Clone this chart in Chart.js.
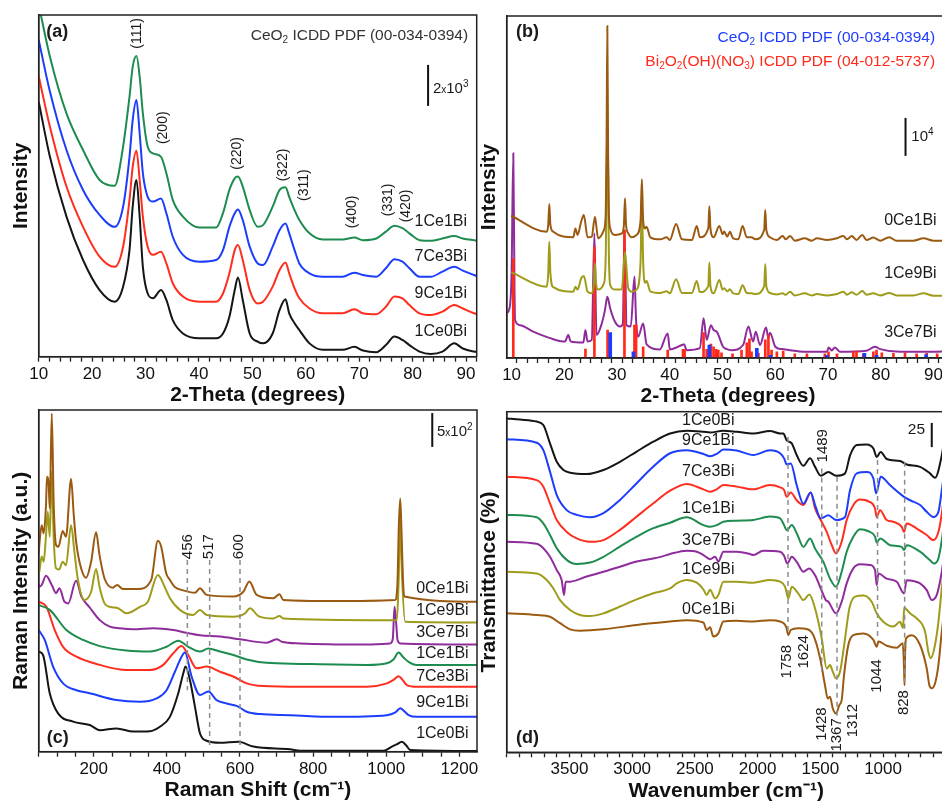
<!DOCTYPE html>
<html>
<head>
<meta charset="utf-8">
<title>XRD / Raman / FTIR</title>
<script src="https://cdn.jsdelivr.net/npm/chart.js@4.4.1/dist/chart.umd.min.js"></script>
<style>
  html, body { margin: 0; padding: 0; background: #fff; }
  body { width: 942px; height: 802px; overflow: hidden; position: relative; }
  canvas { position: absolute; }
</style>
</head>
<body>
<canvas id="chartA" width="480" height="408" style="left:0;top:0"></canvas>
<canvas id="chartB" width="500" height="409" style="left:468px;top:0"></canvas>
<canvas id="chartC" width="480" height="403" style="left:0;top:400px"></canvas>
<canvas id="chartD" width="500" height="404" style="left:468px;top:400px"></canvas>
<script>
// ---- (a) XRD, CeO2-rich samples (2-theta, offset intensity a.u.)
const xrdA_theta = [10, 12.1, 15.2, 18.3, 21.4, 24.2, 25.8, 27.0, 27.6, 28.3, 28.9, 29.5, 30.4, 31.4, 32.9,
  33.9, 35.1, 37.0, 40.1, 43.2, 44.5, 45.7, 46.7, 47.3, 48.2, 49.5, 51.0, 52.0, 53.8, 55.1, 56.2, 56.9, 57.9,
  58.8, 60.7, 63.2, 66.9, 69.1, 70.7, 73.2, 75.0, 76.6, 78.1, 79.4, 81.3, 83.4, 85.6, 87.8, 89.4, 91.5, 92];
const xrdA_1Ce0Bi = [74.6, 58.5, 41.0, 28.3, 19.5, 16.1, 20.5, 31.2, 43.9, 51.7, 41.0, 26.3, 18.5, 17.1, 19.5,
  16.6, 10.7, 6.8, 5.4, 5.4, 6.8, 11.7, 19.5, 23.2, 16.6, 6.8, 4.4, 3.9, 6.8, 13.7, 16.8, 12.7, 9.8,
  7.8, 3.9, 2.0, 2.0, 2.9, 1.8, 1.3, 3.4, 5.9, 4.9, 3.4, 1.5, 0.8, 1.5, 3.9, 2.4, 1.5, 1.4];
const xrdA_9Ce1Bi = [82.1, 67.3, 49.8, 38.0, 29.3, 26.3, 32.2, 45.9, 55.6, 60.3, 51.7, 41.0, 32.2, 29.8, 30.7,
  27.3, 21.5, 17.6, 16.1, 16.1, 18.5, 24.4, 31.2, 32.7, 28.3, 19.5, 15.6, 16.1, 20.5, 25.4, 27.6, 24.4, 20.0,
  17.1, 14.1, 12.7, 12.7, 13.9, 12.7, 12.4, 14.6, 17.6, 17.1, 15.1, 12.7, 12.2, 13.2, 15.1, 14.1, 12.7, 12.5];
const xrdA_7Ce3Bi = [92.7, 77.6, 60.5, 48.8, 41.5, 38.0, 43.9, 58.5, 69.3, 75.1, 65.4, 53.7, 46.8, 45.4, 46.3,
  42.0, 35.1, 29.8, 27.8, 28.3, 31.2, 38.0, 42.0, 43.1, 40.0, 32.2, 27.3, 26.8, 32.2, 37.1, 39.0, 36.1, 31.2,
  27.3, 24.4, 23.4, 23.4, 24.6, 23.9, 23.4, 25.9, 28.5, 27.8, 25.9, 23.4, 23.4, 24.9, 26.3, 25.2, 23.9, 23.6];
const xrdA_1Ce1Bi = [103, 87.8, 71.2, 60.5, 51.7, 50.0, 61.5, 76.1, 84.9, 88.0, 82.0, 71.2, 61.5, 59.5, 58.5,
  53.7, 45.9, 41.0, 37.8, 37.8, 42.0, 48.8, 52.2, 52.7, 49.8, 42.9, 38.0, 38.5, 43.9, 48.8, 49.6, 46.8, 42.9,
  40.0, 36.1, 34.3, 34.3, 34.9, 34.1, 34.6, 36.6, 38.3, 37.6, 36.1, 34.1, 33.9, 34.6, 35.3, 34.6, 34.1, 34.0];

// ---- (b) XRD, Bi-rich samples ([2-theta, intensity a.u.])
const xrdB_0Ce1Bi = [[9.9, 41.6], [16.66, 36.9], [16.95, 39], [17.15, 45.0], [17.35, 39], [17.9, 36.9], [21.7, 35.3],
  [22.1, 37.9], [22.5, 36.0], [23.2, 39.9], [23.7, 41.8], [24.4, 35.3], [25.2, 35.5], [25.8, 41.3], [26.4, 35.0],
  [27.5, 37.4], [27.85, 42], [28.0, 60], [28.15, 97.1], [28.3, 60], [28.45, 42], [28.7, 37.9], [29.6, 36.0],
  [30.9, 36.4], [31.3, 39], [31.5, 46.7], [31.7, 39], [32.1, 36.5], [32.8, 35.3], [33.7, 36.0], [34.45, 40],
  [34.7, 52.3], [34.95, 40], [35.3, 37.9], [35.6, 38.4], [36.3, 35.3], [38.2, 34.7], [39.4, 35.3], [40.0, 34.5],
  [41.2, 39.2], [42.3, 34.7], [44.2, 34.5], [45.1, 38.6], [45.7, 35.3], [47.3, 38], [47.5, 44.4], [47.7, 38],
  [48.3, 35.3], [49.4, 38.6], [50.0, 36.2], [50.3, 37.0], [50.9, 35.5], [51.4, 36.9], [52.0, 35.0], [53.0, 34.7],
  [53.8, 38.6], [54.6, 35.3], [55.5, 35.3], [56.2, 34.7], [57.9, 37.5], [58.1, 43.3], [58.3, 37.5], [59.0, 35.3],
  [60.3, 34.5], [61.4, 35.7], [62.0, 34.7], [62.8, 35.7], [63.7, 34.3], [65.6, 35.0], [66.9, 34.3], [67.9, 35.0],
  [69.8, 34.5], [71.7, 35.0], [72.9, 35.7], [73.6, 34.7], [74.5, 35.7], [75.4, 34.5], [76.5, 36.0], [77.3, 34.5],
  [78.6, 35.2], [79.9, 34.3], [81.6, 35.3], [83.0, 34.3], [86.2, 34.3], [88.1, 35.0], [90.0, 34.3], [93, 34.3]];
const xrdB_1Ce9Bi = [[9.9, 25.1], [16.66, 20.8], [16.95, 25], [17.15, 34.0], [17.35, 25], [17.9, 20.7], [21.7, 19.4],
  [22.1, 20.8], [22.5, 20.0], [23.2, 23.3], [23.7, 24.0], [24.4, 19.4], [25.2, 18.9], [25.6, 22], [25.8, 27.7],
  [26.0, 22], [26.4, 20.0], [27.5, 21.8], [27.85, 30], [28.15, 72], [28.45, 30], [28.7, 21.3], [29.6, 20.0],
  [30.9, 20.1], [31.5, 31], [32.1, 20.5], [32.8, 19.4], [33.7, 20.0], [34.45, 28], [34.7, 46.2], [34.95, 28],
  [35.3, 22.0], [35.6, 22.5], [36.3, 19.5], [38.2, 19.0], [39.4, 19.5], [40.0, 18.9], [41.2, 23.0], [42.3, 19.0],
  [44.2, 19.0], [45.1, 22.5], [45.7, 19.3], [47.3, 21], [47.5, 27.9], [47.7, 21], [48.3, 18.9], [49.4, 22.8],
  [50.0, 20.0], [50.3, 20.4], [50.9, 19.5], [51.4, 20.1], [52.0, 18.9], [53.0, 18.7], [53.8, 21.3], [54.6, 19.0],
  [55.5, 18.9], [56.2, 18.7], [57.9, 21], [58.1, 27.5], [58.3, 21], [59.0, 19.0], [60.3, 18.6], [61.4, 18.9],
  [62.0, 18.5], [62.8, 19.4], [63.7, 18.3], [65.6, 18.9], [66.9, 18.3], [67.9, 18.7], [69.8, 18.3], [71.7, 18.7],
  [72.9, 19.4], [73.6, 18.5], [74.5, 19.2], [75.4, 18.5], [76.5, 19.6], [77.3, 18.5], [78.6, 18.9], [79.9, 18.3],
  [81.6, 19.0], [83.0, 18.3], [86.2, 18.3], [88.1, 18.9], [90.0, 18.2], [93, 18.2]];
const xrdB_3Ce7Bi = [[9.07, 13.1], [9.6, 14.5], [10.0, 25], [10.32, 59.9], [10.55, 20], [10.65, 11.1], [11.6, 9.6],
  [14.1, 7.7], [17.3, 5.8], [20.1, 4.8], [20.75, 6.7], [21.2, 4.8], [23.6, 4.5], [24.0, 8.2], [24.4, 4.8],
  [25.2, 5.3], [25.7, 36.5], [26.1, 6.7], [27.1, 10.1], [27.7, 14.0], [28.15, 17.9], [28.7, 14.5], [29.6, 10.6],
  [30.6, 9.2], [31.1, 10.1], [31.4, 37.4], [31.8, 9.6], [32.6, 9.2], [33.3, 23.8], [33.6, 11.1], [34.0, 6.2],
  [34.95, 10.1], [35.6, 4.0], [38.1, 2.5], [39.6, 7.2], [40.0, 2.5], [42.3, 3.8], [42.7, 4.0], [43.2, 2.3],
  [45.7, 2.9], [46.4, 11.6], [47.0, 5.3], [47.8, 9.6], [48.3, 8.2], [48.9, 7.7], [50.1, 3.3], [50.8, 2.6],
  [51.7, 2.3], [53.9, 3.8], [54.9, 9.2], [55.8, 4.8], [56.3, 7.7], [57.1, 3.8], [58.25, 8.9], [58.7, 5.8],
  [59.0, 7.4], [60.0, 3.3], [61.2, 2.6], [62.8, 2.3], [65.3, 1.8], [69.8, 1.8], [70.1, 3.1], [70.7, 2.2],
  [71.3, 3.1], [72.3, 1.8], [77.3, 2.1], [78.9, 3.3], [79.9, 2.6], [83.7, 1.8], [88.7, 1.8], [93, 2.0]];
const refB_Bi2O2OHNO3 = [[10.32, 29.1], [24.0, 2.6], [25.7, 32.5], [28.2, 8.2], [31.4, 37.4], [33.3, 9.6],
  [33.6, 9.6], [34.95, 3.3], [39.6, 2.3], [42.5, 2.5], [42.8, 2.5], [46.4, 7.4], [47.0, 2.5], [47.8, 4.1],
  [48.3, 3.3], [48.8, 2.5], [49.2, 2.3], [49.8, 1.5], [51.9, 1.2], [53.6, 2.3], [54.6, 4.4], [55.1, 5.6],
  [55.5, 1.8], [56.8, 1.4], [58.1, 5.3], [58.7, 6.7], [59.3, 2.3], [60.3, 1.8], [61.5, 2.0], [63.7, 1.2],
  [66.0, 1.2], [69.4, 1.2], [70.1, 1.8], [71.7, 1.2], [74.8, 1.8], [75.4, 2.0], [76.7, 1.2], [78.6, 1.8],
  [79.2, 2.3], [80.2, 1.5], [82.4, 1.4], [84.6, 1.5], [86.8, 1.2], [88.7, 1.4], [90.7, 1.2]];
const refB_CeO2 = [[28.7, 7.4], [33.1, 1.8], [47.5, 3.8], [56.5, 2.8], [59.1, 0.8], [69.8, 0.8], [76.9, 1.4],
  [79.2, 0.8], [88.6, 1.0]];

// ---- (c) Raman ([shift cm-1, intensity a.u.])
const ramanC_0Ce1Bi = [[49.3, 58], [51, 60.5], [57.5, 66.3], [63, 63.9], [69.3, 72.2], [72, 80.5], [76.7, 78.1],
  [79.5, 71.2], [85, 99.0], [90.4, 72.2], [96.7, 60.5], [103.3, 60.0], [115, 64.6], [124, 62.9], [137.9, 79.8],
  [145.2, 69.3], [151.6, 61.5], [165.3, 53.7], [179, 50.9], [192.7, 55.6], [206.3, 64.2], [215.6, 57.6],
  [229.4, 50.7], [252.1, 48.0], [263.9, 48.8], [279.4, 47.6], [320.5, 47.6], [357, 50.2], [375.3, 61.7],
  [384.4, 60.0], [398.1, 52.2], [408, 50.3], [421, 48.3], [444.7, 47.2], [476.7, 46.5], [490.4, 47.8],
  [508.7, 45.9], [581.7, 45.4], [609.1, 46.8], [625.6, 49.8], [645.7, 45.9], [691.3, 44.9], [707.8, 46.1],
  [718.7, 44.4], [855.7, 44.1], [1024.7, 44.4], [1031, 50], [1034.5, 66], [1038.4, 74.1], [1042, 64],
  [1046, 50], [1049.3, 45.4], [1248.4, 43.9]];
const ramanC_1Ce9Bi = [[49.3, 52], [51, 52.7], [57.5, 57.1], [63, 55.6], [69.3, 63.4], [74, 70.2], [79.5, 62.9],
  [85, 82], [90.4, 62.4], [96.7, 53.7], [105, 53.3], [115, 55.6], [124, 54.6], [137.9, 66.3], [147, 58.5],
  [156, 50.7], [174.5, 44.4], [192.7, 46.8], [206.3, 53.5], [215.6, 48.3], [229.4, 43.4], [243.8, 42.4],
  [266.7, 42.0], [289.5, 40.5], [326, 42.4], [348, 43.9], [375.3, 51.7], [382, 51], [393.6, 48.3], [408, 45],
  [435.6, 41.5], [472.1, 40.0], [490.4, 41.5], [508.7, 40.0], [581.7, 39.5], [613.7, 40.5], [627.4, 42.0],
  [650.2, 39.7], [691.3, 39.0], [707.8, 39.7], [718.7, 39.0], [992.7, 38.5], [1029.2, 38.5], [1034, 50],
  [1038.4, 68], [1043, 52], [1052.1, 38.0], [1248.4, 37.8]];
const ramanC_3Ce7Bi = [[49.3, 49], [51, 48.3], [57.5, 48.8], [69.3, 51.5], [85, 48.8], [96.7, 46.4], [106, 47.8],
  [119.7, 43.9], [130, 43.4], [151.6, 50.0], [166.2, 45.4], [189, 42.2], [216.4, 38.5], [243.8, 36.6],
  [271.2, 36.1], [307.8, 35.8], [362.6, 36.1], [417.4, 35.6], [453.9, 34.8], [490.4, 34.1], [545.2, 33.7],
  [600, 32.9], [673.1, 31.9], [700.5, 32.9], [714.2, 32.2], [764.4, 31.7], [947, 31.4], [1010.9, 31.7],
  [1018, 33], [1022.8, 42.4], [1027, 38], [1031, 32.7], [1038.4, 31.7], [1248.4, 31.4]];
const ramanC_1Ce1Bi = [[49.3, 42.9], [79.5, 41.5], [125.1, 35.6], [170.8, 32.7], [216.4, 30.9], [289.5, 29.6],
  [353.4, 29.3], [399.1, 30.7], [431.1, 32.5], [458.4, 30.7], [490.4, 29.3], [513.2, 30.2], [545.2, 29.3],
  [581.7, 28.3], [618.3, 27.0], [673.1, 26.0], [764.4, 25.7], [947, 25.4], [1001.8, 25.9], [1020, 27],
  [1033.8, 29.0], [1048, 27.5], [1061.2, 26.3], [1084, 25.4], [1248.4, 25.4]];
const ramanC_7Ce3Bi = [[49.3, 43.9], [70.3, 42.4], [93.2, 35.6], [116, 30.7], [152.5, 27.8], [216.4, 25.4],
  [289.5, 23.9], [353.4, 23.9], [390, 25.4], [417.4, 28.8], [440.2, 30.9], [458.4, 28.3], [481.3, 24.4],
  [508.7, 24.9], [545.2, 23.4], [581.7, 22.0], [618.3, 20.0], [663.9, 19.2], [764.4, 19.0], [947, 19.0],
  [1001.8, 20.0], [1020, 21], [1033.8, 22.1], [1045, 21], [1056.6, 19.5], [1084, 19.0], [1248.4, 19.0]];
const ramanC_9Ce1Bi = [[49.3, 35.6], [65.8, 32.7], [88.6, 24.9], [116, 20.0], [152.5, 18.0], [189, 17.1],
  [262.1, 15.1], [326, 14.6], [371.7, 15.6], [399.1, 18.0], [421.9, 23.4], [440.2, 27.8], [449.3, 29.0],
  [467.6, 22.0], [490.4, 16.6], [513.2, 17.6], [536.1, 15.1], [563.5, 14.1], [590.9, 13.4], [618.3, 11.7],
  [654.8, 11.0], [737, 10.7], [855.7, 10.2], [1001.8, 10.7], [1025, 11.5], [1038.4, 12.7], [1050, 11.8],
  [1061.2, 10.7], [1084, 10.2], [1248.4, 10.2]];
const ramanC_1Ce0Bi = [[49.3, 29.3], [61.2, 28.3], [79.5, 17.1], [102.3, 11.2], [143.4, 8.8], [189, 7.8],
  [216.4, 6.3], [262.1, 6.8], [307.8, 5.9], [353.4, 6.0], [380.8, 7.3], [408.2, 10.2], [431.1, 17.1],
  [444.7, 22.9], [451.1, 24.9], [463, 21.0], [476.7, 13.2], [490.4, 5.4], [508.7, 3.2], [545.2, 2.6],
  [595.4, 2.9], [636.5, 1.5], [737, 0.7], [764.4, 0.3], [992.7, 0.3], [1015.5, 1.5], [1030, 2.2],
  [1042.9, 2.9], [1055, 1.8], [1065.8, 0.5], [1248.4, 0.2]];

// ---- (d) FTIR ([wavenumber cm-1, transmittance % with offsets])
const ftirD_1Ce0Bi = [[4000, 98.0], [3894, 97.7], [3761, 97.1], [3708, 96.1], [3655, 90.7], [3601, 85.3],
  [3548, 82.9], [3495, 82.1], [3362, 81.7], [3229, 82.9], [3097, 85.3], [2964, 88.3], [2831, 91.2], [2698, 93.6],
  [2565, 94.4], [2432, 94.1], [2379, 93.9], [2273, 94.4], [2167, 94.1], [2034, 93.6], [1901, 94.3], [1821, 93.6],
  [1795, 93.6], [1768, 91.6], [1728, 90.7], [1688, 87.2], [1635, 84.1], [1582, 86.3], [1542, 83.8], [1497, 81.2],
  [1436, 82.3], [1375, 81.2], [1303, 81.9], [1263, 87.2], [1210, 90.2], [1130, 90.4], [1077, 89.2], [1051, 86.7],
  [1019, 88.2], [971, 86.1], [865, 85.5], [812, 84.5], [705, 83.8], [626, 81.9], [586, 80.6], [532, 87.2], [500, 95]];
const ftirD_9Ce1Bi = [[4000, 91.9], [3761, 90.9], [3708, 88.7], [3655, 82.4], [3601, 75.5], [3522, 71.1],
  [3442, 69.7], [3336, 69.0], [3229, 70.2], [3097, 74.1], [2964, 79.0], [2831, 83.9], [2698, 87.8], [2565, 88.7],
  [2432, 87.6], [2379, 86.9], [2326, 87.6], [2273, 88.9], [2167, 88.6], [2034, 87.3], [1901, 88.7], [1821, 87.8],
  [1789, 86.3], [1768, 84.5], [1736, 84.8], [1688, 78.4], [1635, 73.0], [1577, 76.3], [1542, 72.6], [1497, 68.7],
  [1436, 69.6], [1375, 68.2], [1303, 69.1], [1263, 77.0], [1210, 81.9], [1130, 82.3], [1077, 80.4], [1056, 76.0],
  [1045, 77.0], [1019, 80.9], [944, 78.4], [833, 75.0], [785, 74.0], [705, 72.6], [652, 70.6], [599, 69.1],
  [559, 70.6], [532, 77.0], [500, 86]];
const ftirD_7Ce3Bi = [[4000, 80.9], [3761, 79.9], [3708, 78.0], [3655, 73.1], [3601, 68.2], [3522, 64.7],
  [3442, 62.8], [3336, 61.8], [3229, 62.3], [3097, 65.3], [2964, 69.2], [2831, 73.1], [2698, 76.8], [2565, 78.8],
  [2432, 77.2], [2379, 76.5], [2326, 77.2], [2273, 78.5], [2167, 78.0], [2034, 77.2], [1901, 78.5], [1821, 77.8],
  [1789, 77.0], [1768, 75.0], [1736, 76.3], [1688, 74.0], [1635, 72.6], [1577, 76.3], [1542, 71.6], [1497, 68.2],
  [1449, 64.7], [1409, 60.8], [1375, 58.4], [1330, 61.8], [1290, 68.2], [1237, 72.6], [1184, 74.2], [1117, 73.7],
  [1064, 71.6], [1051, 69.1], [1024, 71.1], [971, 68.2], [918, 67.7], [851, 66.2], [833, 64.7], [812, 67.2],
  [732, 65.7], [652, 63.8], [599, 62.3], [559, 64.7], [532, 70.1], [500, 80]];
const ftirD_1Ce1Bi = [[4000, 69.7], [3761, 69.0], [3708, 67.2], [3655, 63.8], [3601, 59.9], [3522, 56.5],
  [3442, 55.3], [3336, 55.7], [3229, 57.4], [3097, 60.4], [2964, 63.3], [2831, 65.8], [2698, 67.4], [2565, 69.0],
  [2432, 66.7], [2379, 66.2], [2326, 66.7], [2273, 67.7], [2167, 68.0], [2034, 68.2], [1901, 69.2], [1821, 68.7],
  [1789, 66.7], [1768, 65.2], [1728, 66.7], [1688, 64.3], [1635, 60.3], [1582, 62.8], [1542, 59.8], [1476, 55.9],
  [1423, 51.0], [1375, 48.6], [1330, 53.0], [1290, 58.9], [1237, 63.3], [1184, 65.5], [1117, 64.9], [1064, 63.3],
  [1051, 61.6], [1024, 62.8], [944, 60.8], [851, 60.3], [833, 59.4], [812, 60.8], [705, 58.9], [626, 56.4],
  [594, 55.4], [559, 56.9], [532, 62.3], [500, 72]];
const ftirD_3Ce7Bi = [[4000, 61.8], [3761, 61.2], [3708, 59.9], [3655, 57.4], [3601, 53.5], [3562, 50.6],
  [3543, 46.2], [3530, 50.1], [3495, 50.1], [3362, 51.6], [3229, 53.0], [3097, 54.5], [2964, 56.0], [2831, 56.9],
  [2751, 57.6], [2698, 58.2], [2565, 59.2], [2485, 58.9], [2432, 57.9], [2379, 56.7], [2339, 57.4], [2313, 56.0],
  [2273, 58.9], [2167, 58.9], [2061, 58.2], [2034, 57.9], [1955, 59.2], [1821, 58.9], [1789, 57.7], [1763, 55.4],
  [1728, 57.4], [1688, 55.9], [1635, 53.0], [1588, 54.0], [1542, 52.0], [1502, 48.6], [1470, 45.7], [1457, 44.7],
  [1436, 44.2], [1375, 40.8], [1330, 44.2], [1290, 49.6], [1237, 54.0], [1184, 55.2], [1104, 55.0], [1064, 53.5],
  [1051, 49.1], [1037, 52.5], [971, 51.0], [891, 50.1], [833, 46.6], [812, 50.5], [758, 50.3], [705, 49.6],
  [652, 47.6], [612, 44.7], [572, 46.2], [532, 53.0], [500, 62]];
const ftirD_1Ce9Bi = [[4000, 53.0], [3761, 52.5], [3681, 50.6], [3628, 48.1], [3575, 44.7], [3495, 41.8],
  [3416, 40.3], [3336, 40.0], [3229, 40.8], [3097, 42.8], [2964, 44.9], [2831, 46.7], [2698, 48.1], [2645, 49.6],
  [2565, 50.6], [2485, 49.8], [2432, 47.8], [2406, 46.2], [2379, 47.7], [2339, 45.2], [2313, 46.2], [2273, 50.1],
  [2167, 50.1], [2034, 49.8], [1901, 50.6], [1821, 50.1], [1781, 48.6], [1755, 45.2], [1728, 48.6], [1675, 46.6],
  [1635, 44.7], [1588, 46.3], [1542, 42.2], [1489, 33.4], [1449, 24.6], [1423, 25.6], [1401, 23.7], [1375, 21.7],
  [1343, 23.7], [1303, 33.4], [1269, 42.2], [1223, 45.7], [1157, 46.0], [1091, 44.2], [1051, 40.8], [998, 38.3],
  [918, 36.9], [865, 38.3], [840, 36.5], [832, 42.5], [815, 42.0], [785, 40.8], [732, 39.3], [665, 35.4],
  [639, 29.5], [620, 27.6], [586, 31.5], [559, 38.3], [532, 48.1], [500, 58]];
const ftirD_0Ce1Bi = [[4000, 40.8], [3761, 40.3], [3655, 39.8], [3575, 37.9], [3495, 36.1], [3416, 35.7],
  [3229, 36.1], [2964, 37.4], [2698, 38.4], [2565, 38.8], [2432, 38.1], [2406, 35.9], [2379, 36.7], [2353, 34.0],
  [2313, 34.9], [2273, 38.4], [2167, 38.6], [2034, 38.4], [1901, 38.8], [1821, 38.4], [1773, 36.9], [1755, 34.4],
  [1736, 35.9], [1675, 36.4], [1609, 36.2], [1556, 34.4], [1502, 27.6], [1463, 19.7], [1441, 15.8], [1423, 16.3],
  [1401, 12.9], [1375, 11.4], [1348, 13.9], [1330, 15.3], [1311, 22.7], [1277, 31.5], [1237, 34.4], [1157, 34.9],
  [1077, 33.0], [1051, 31.0], [1037, 32.5], [971, 31.3], [891, 30.7], [843, 32.0], [833, 25], [829, 19.7],
  [825, 28], [817, 33.4], [772, 34.4], [705, 31.5], [652, 24.6], [631, 19.7], [612, 18.8], [586, 20.2],
  [559, 25.6], [532, 35.4], [500, 45]];

// ---- colours per sample
const C = {
  black: '#151515', red: '#ff2d1e', blue: '#1c3dfc', green: '#1d8c4e',
  brown: '#9b5a12', olive: '#9e9c1a', purple: '#8f2c9c'
};
const FONT = '"Liberation Sans", Arial, Helvetica, sans-serif';
Chart.defaults.font.family = FONT;

const pts = arr => arr.map(([x, y]) => ({ x, y }));
const zipA = ys => xrdA_theta.map((x, i) => ({ x, y: ys[i] }));
const line = (label, data, color) => ({ label, data, borderColor: color, borderWidth: 2, pointRadius: 0, fill: false });

// text with optional sub/superscripts: parts = [[text, 'sub'|'sup'|'small'|'']]
function drawRich(ctx, it, px, py) {
  const size = it.size || 15;
  const parts = typeof it.t === 'string' ? [[it.t, '']] : it.t;
  const fontFor = k => (it.bold ? 'bold ' : '') + (k ? Math.round(size * 0.66) : size) + 'px ' + FONT;
  let w = 0;
  parts.forEach(([s, k]) => { ctx.font = fontFor(k); w += ctx.measureText(s).width; });
  ctx.save();
  ctx.translate(px, py);
  if (it.rot) ctx.rotate(it.rot * Math.PI / 180);
  let x0 = it.align === 'right' ? -w : it.align === 'left' ? 0 : -w / 2;
  ctx.fillStyle = it.color || '#1a1a1a';
  ctx.textBaseline = 'middle';
  ctx.textAlign = 'left';
  parts.forEach(([s, k]) => {
    ctx.font = fontFor(k);
    const dy = k === 'sub' ? size * 0.3 : k === 'sup' ? -size * 0.33 : k === 'small' ? size * 0.08 : 0;
    ctx.fillText(s, x0, dy);
    x0 += ctx.measureText(s).width;
  });
  ctx.restore();
}

function decoPlugin(items) {
  return {
    id: 'deco',
    afterDatasetsDraw(chart) {
      const ctx = chart.ctx, xs = chart.scales.x, ys = chart.scales.y, a = chart.chartArea;
      ctx.save();
      items.forEach(it => {
        if (it.kind === 'dash' || it.kind === 'bar') {
          const px = xs.getPixelForValue(it.x);
          ctx.beginPath();
          ctx.setLineDash(it.kind === 'dash' ? [5, 4] : []);
          ctx.strokeStyle = it.kind === 'dash' ? '#8c8c8c' : '#111';
          ctx.lineWidth = it.kind === 'dash' ? 1.5 : 2;
          ctx.moveTo(px, ys.getPixelForValue(it.y1));
          ctx.lineTo(px, ys.getPixelForValue(it.y2));
          ctx.stroke();
        } else {
          drawRich(ctx, it, xs.getPixelForValue(it.x), ys.getPixelForValue(it.y));
        }
      });
      ctx.setLineDash([]);
      ctx.strokeStyle = '#222';
      ctx.lineWidth = 1.5;
      ctx.strokeRect(a.left, a.top, a.right - a.left, a.bottom - a.top);
      ctx.restore();
    }
  };
}

function buildChart(id, o) {
  return new Chart(document.getElementById(id), {
    type: 'line',
    data: { datasets: o.datasets },
    options: {
      responsive: false,
      animation: false,
      events: [],
      layout: { padding: o.pad },
      plugins: { legend: { display: false }, tooltip: { enabled: false } },
      elements: { point: { radius: 0 }, line: { cubicInterpolationMode: 'monotone' } },
      scales: {
        x: {
          type: 'linear', min: o.xMin, max: o.xMax, reverse: !!o.reverse, offset: false,
          ticks: {
            autoSkip: false, maxRotation: 0, minRotation: 0, padding: 2,
            color: '#111', font: { size: 17 }, callback: o.label
          },
          // every minor step gets a tick mark, only the round values get a label
          afterBuildTicks: s => {
            const t = [];
            for (let v = Math.ceil(o.xMin / o.step) * o.step; v <= o.xMax + 1e-9; v += o.step) {
              t.push({ value: Math.round(v * 1000) / 1000 });
            }
            s.ticks = t;
          },
          grid: { drawOnChartArea: false, drawTicks: true, tickLength: 5, tickColor: '#222', tickWidth: 1.3 },
          border: { display: true, color: '#222', width: 1.5 },
          title: { display: true, text: o.xTitle, color: '#111', font: { size: 21, weight: 'bold' }, padding: { top: 0, bottom: 0 } },
          afterFit: s => { s.height = o.xH; s.paddingLeft = 0; s.paddingRight = 0; }
        },
        y: {
          min: 0, max: 100,
          ticks: { display: false },
          grid: { display: false, drawTicks: false },
          border: { display: true, color: '#222', width: 1.5 },
          title: { display: true, text: o.yTitle, color: '#111', font: { size: 21, weight: 'bold' }, padding: { top: 9, bottom: 0 } },
          afterFit: s => { s.width = 38.7; s.paddingTop = 0; s.paddingBottom = 0; }
        }
      }
    },
    plugins: [decoPlugin(o.deco)]
  });
}

const every = (n, lo, hi) => v => (Math.abs(v % n) < 1e-6 && v >= lo && v <= hi) ? String(v) : '';
const rotLabel = (t, x, y, size) => ({ t, x, y, size: size || 14, rot: -90 });
const sample = (t, x, y, align) => ({ t, x, y, size: 16, align: align || 'right', color: '#1a1a1a' });

// (a)
buildChart('chartA', {
  pad: { left: 0, top: 15, right: 3.3, bottom: 0 }, xH: 51.3,
  xMin: 10, xMax: 92, step: 2, label: every(10, 10, 90),
  xTitle: '2-Theta (degrees)', yTitle: 'Intensity',
  datasets: [
    line('1Ce1Bi', zipA(xrdA_1Ce1Bi), C.green),
    line('7Ce3Bi', zipA(xrdA_7Ce3Bi), C.blue),
    line('9Ce1Bi', zipA(xrdA_9Ce1Bi), C.red),
    line('1Ce0Bi', zipA(xrdA_1Ce0Bi), C.black)
  ],
  deco: [
    { t: '(a)', x: 11.4, y: 95.0, size: 18, bold: true, align: 'left' },
    { t: [['CeO', ''], ['2', 'sub'], [' ICDD PDF (00-034-0394)', '']], x: 90.4, y: 93.9, size: 15.5, align: 'right', color: '#333' },
    rotLabel('(111)', 28.35, 94.6), rotLabel('(200)', 33.3, 67.0), rotLabel('(220)', 47.1, 59.5),
    rotLabel('(322)', 55.8, 56.1), rotLabel('(311)', 59.7, 50.2), rotLabel('(400)', 68.6, 42.4),
    rotLabel('(331)', 75.5, 45.9), rotLabel('(420)', 78.8, 44.1),
    { kind: 'bar', x: 82.9, y1: 73.4, y2: 85.4 },
    { t: [['2', ''], ['x', 'small'], ['10', ''], ['3', 'sup']], x: 83.8, y: 78.3, size: 15, align: 'left' },
    sample('1Ce1Bi', 90.2, 39.6), sample('7Ce3Bi', 90.2, 29.3),
    sample('9Ce1Bi', 90.2, 18.6), sample('1Ce0Bi', 90.2, 7.3)
  ]
});

// (b)
buildChart('chartB', {
  pad: { left: 0, top: 16, right: 18.7, bottom: 0 }, xH: 51,
  xMin: 9.07, xMax: 93, step: 2, label: every(10, 10, 90),
  xTitle: '2-Theta (degrees)', yTitle: 'Intensity',
  datasets: [
    line('0Ce1Bi', pts(xrdB_0Ce1Bi), C.brown),
    line('1Ce9Bi', pts(xrdB_1Ce9Bi), C.olive),
    { type: 'bar', label: 'CeO2 PDF', data: pts(refB_CeO2), backgroundColor: '#1a3cff', barThickness: 3, grouped: false, borderWidth: 0 },
    { type: 'bar', label: 'Bi2O2(OH)(NO3) PDF', data: pts(refB_Bi2O2OHNO3), backgroundColor: '#ff2a1a', barThickness: 2, grouped: false, borderWidth: 0 },
    line('3Ce7Bi', pts(xrdB_3Ce7Bi), C.purple)
  ],
  deco: [
    { t: '(b)', x: 10.83, y: 95.3, size: 18, bold: true, align: 'left' },
    { t: [['CeO', ''], ['2', 'sub'], [' ICDD PDF (00-034-0394)', '']], x: 90.3, y: 93.7, size: 15.5, align: 'right', color: '#1f3cff' },
    { t: [['Bi', ''], ['2', 'sub'], ['O', ''], ['2', 'sub'], ['(OH)(NO', ''], ['3', 'sub'], [') ICDD PDF (04-012-5737)', '']], x: 90.3, y: 86.6, size: 15.5, align: 'right', color: '#ff2a1a' },
    { kind: 'bar', x: 84.7, y1: 59.1, y2: 70.2 },
    { t: [['10', ''], ['4', 'sup']], x: 85.8, y: 64.6, size: 15, align: 'left' },
    sample('0Ce1Bi', 90.6, 40.1), sample('1Ce9Bi', 90.6, 24.8), sample('3Ce7Bi', 90.6, 7.4)
  ]
});

// (c)
buildChart('chartC', {
  pad: { left: 0, top: 10, right: 3, bottom: 0 }, xH: 51.3,
  xMin: 49.3, xMax: 1248.4, step: 50, label: every(200, 200, 1200),
  xTitle: 'Raman Shift (cm\u207B\u00B9)', yTitle: 'Raman Intensity (a.u.)',
  datasets: [
    line('0Ce1Bi', pts(ramanC_0Ce1Bi), C.brown),
    line('1Ce9Bi', pts(ramanC_1Ce9Bi), C.olive),
    line('3Ce7Bi', pts(ramanC_3Ce7Bi), C.purple),
    line('1Ce1Bi', pts(ramanC_1Ce1Bi), C.green),
    line('7Ce3Bi', pts(ramanC_7Ce3Bi), C.red),
    line('9Ce1Bi', pts(ramanC_9Ce1Bi), C.blue),
    line('1Ce0Bi', pts(ramanC_1Ce0Bi), C.black)
  ],
  deco: [
    { kind: 'dash', x: 456, y1: 56.1, y2: 18 },
    { kind: 'dash', x: 517, y1: 56.1, y2: 1.5 },
    { kind: 'dash', x: 600, y1: 56.1, y2: 1.5 },
    rotLabel('456', 458, 60, 15), rotLabel('517', 516, 60, 15), rotLabel('600', 598, 60, 15),
    { t: '(c)', x: 71.2, y: 4.0, size: 18, bold: true, align: 'left' },
    { kind: 'bar', x: 1126, y1: 89.2, y2: 99.1 },
    { t: [['5', ''], ['x', 'small'], ['10', ''], ['2', 'sup']], x: 1139, y: 93.6, size: 15, align: 'left' },
    sample('0Ce1Bi', 1225.5, 47.8), sample('1Ce9Bi', 1225.5, 41.3), sample('3Ce7Bi', 1225.5, 34.8),
    sample('1Ce1Bi', 1225.5, 28.8), sample('7Ce3Bi', 1225.5, 21.9), sample('9Ce1Bi', 1225.5, 14.3),
    sample('1Ce0Bi', 1225.5, 5.2)
  ]
});

// (d)
buildChart('chartD', {
  pad: { left: 0, top: 11.7, right: 22.2, bottom: 0 }, xH: 51.7,
  xMin: 500, xMax: 4000, reverse: true, step: 100, label: every(500, 1000, 3500),
  xTitle: 'Wavenumber (cm\u207B\u00B9)', yTitle: 'Transmittance (%)',
  datasets: [
    line('1Ce0Bi', pts(ftirD_1Ce0Bi), C.black),
    line('9Ce1Bi', pts(ftirD_9Ce1Bi), C.blue),
    line('7Ce3Bi', pts(ftirD_7Ce3Bi), C.red),
    line('1Ce1Bi', pts(ftirD_1Ce1Bi), C.green),
    line('3Ce7Bi', pts(ftirD_3Ce7Bi), C.purple),
    line('1Ce9Bi', pts(ftirD_1Ce9Bi), C.olive),
    line('0Ce1Bi', pts(ftirD_0Ce1Bi), C.brown)
  ],
  deco: [
    { kind: 'dash', x: 1758, y1: 92.6, y2: 34.4 },
    { kind: 'dash', x: 1489, y1: 83.3, y2: 23.7 },
    { kind: 'dash', x: 1367, y1: 80.9, y2: 10.5 },
    { kind: 'dash', x: 1044, y1: 85.8, y2: 32.9 },
    { kind: 'dash', x: 828, y1: 85.3, y2: 20.7 },
    rotLabel('1758', 1768, 26.6, 15), rotLabel('1624', 1635, 29.5, 15), rotLabel('1489', 1481, 90, 15),
    rotLabel('1428', 1489, 8.3, 15), rotLabel('1367', 1370, 5.1, 15), rotLabel('1312', 1242, 9.3, 15),
    rotLabel('1044', 1046, 22.4, 15), rotLabel('828', 838, 14.6, 15),
    { t: '(d)', x: 3926, y: 4.2, size: 18, bold: true, align: 'left' },
    { kind: 'bar', x: 612, y1: 89.6, y2: 96.7 },
    { t: '25', x: 665, y: 94.6, size: 15.5, align: 'right' },
    sample('1Ce0Bi', 2393, 97.3, 'center'), sample('9Ce1Bi', 2393, 91.5, 'center'),
    sample('7Ce3Bi', 2393, 82.4, 'center'), sample('1Ce1Bi', 2393, 71.6, 'center'),
    sample('3Ce7Bi', 2393, 62.3, 'center'), sample('1Ce9Bi', 2393, 53.5, 'center'),
    sample('0Ce1Bi', 2393, 41.8, 'center')
  ]
});
</script>
</body>
</html>
